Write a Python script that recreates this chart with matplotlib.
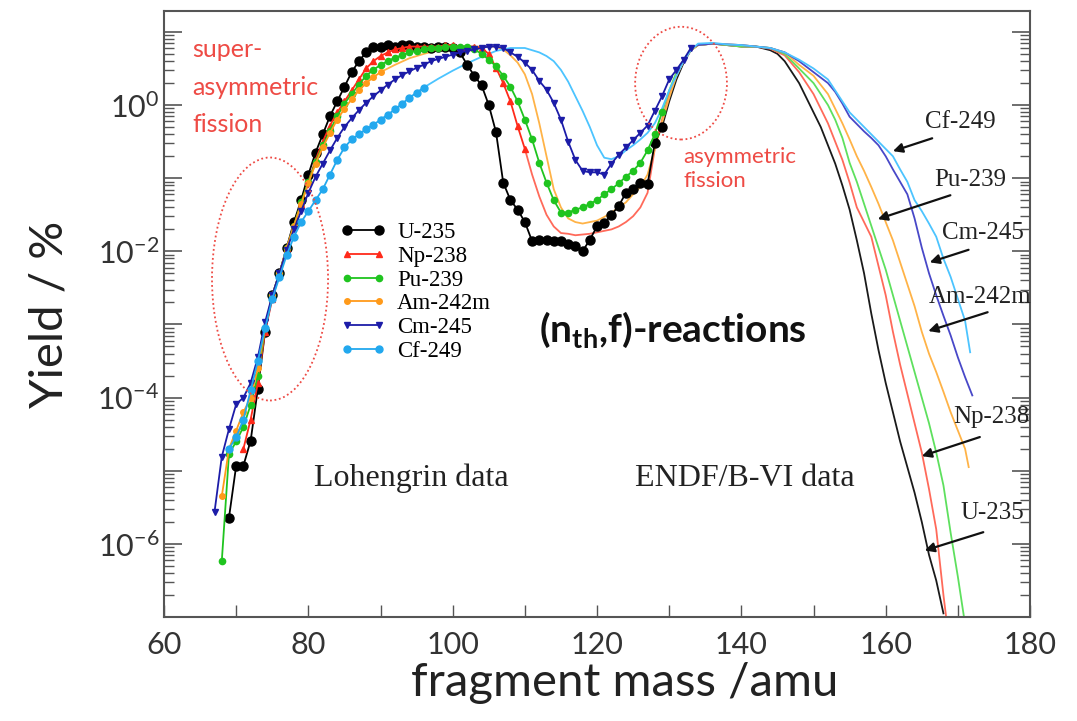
import numpy as np
import matplotlib.pyplot as plt
from matplotlib.patches import Ellipse
from matplotlib.ticker import LogLocator, MultipleLocator, FuncFormatter, NullFormatter

# log10(yield / %).
# "lo" = Lohengrin points (drawn with markers), "hi" = ENDF/B-VI curve (plain line)
u235_lo_mass = np.arange(69, 130)
u235_lo_logy = [-5.64, -4.93, -4.93, -4.59, -3.88, -3.1, -2.6, -2.3, -1.95, -1.6,
                -1.3, -0.95, -0.65, -0.4, -0.15, 0.05, 0.25, 0.45, 0.6, 0.72,
                0.8, 0.8, 0.82, 0.8, 0.82, 0.82, 0.8, 0.8, 0.78, 0.8,
                0.8, 0.78, 0.72, 0.55, 0.4, 0.27, 0.0, -0.37, -1.06, -1.3,
                -1.43, -1.6, -1.86, -1.84, -1.84, -1.86, -1.86, -1.9, -1.93, -2.0,
                -1.84, -1.66, -1.61, -1.5, -1.38, -1.2, -1.15, -1.06, -1.08, -0.52,
                -0.3]
u235_hi_mass = [130, 131, 132, 133, 134, 136, 138, 140, 142, 144, 145, 146, 147, 148, 149,
                150, 151, 152, 153, 154, 155, 156, 157, 158, 159, 160, 161, 162, 163, 164,
                165, 166, 167, 168]
u235_hi_logy = [0.05, 0.35, 0.58, 0.75, 0.82, 0.84, 0.82, 0.8, 0.8, 0.75, 0.7, 0.6, 0.45, 0.3, 0.1,
                -0.1, -0.3, -0.55, -0.8, -1.1, -1.43, -1.85, -2.3, -2.85, -3.35, -3.8, -4.2, -4.6, -4.95, -5.3,
                -5.7, -6.15, -6.5, -6.95]

np238_lo_mass = np.arange(71, 111)
np238_lo_logy = [-4.7, -4.3, -3.8, -3.1, -2.65, -2.3, -1.95, -1.65, -1.35, -1.05,
                 -0.75, -0.5, -0.28, -0.1, 0.05, 0.2, 0.35, 0.5, 0.6, 0.67,
                 0.72, 0.76, 0.78, 0.8, 0.8, 0.8, 0.8, 0.8, 0.82, 0.82,
                 0.8, 0.8, 0.8, 0.78, 0.7, 0.51, 0.3, 0.05, -0.29, -0.6]
np238_hi_mass = [111, 112, 113, 114, 115, 116, 117, 118, 119, 120, 121, 122, 123, 124, 125, 126, 127, 128, 129,
                 130, 131, 132, 133, 134, 136, 138, 140, 142, 144, 146, 148, 150, 152, 154,
                 155, 156, 157, 158, 159, 160, 161, 162, 163, 164, 165, 166, 167, 168, 168.5]
np238_hi_logy = [-0.95, -1.25, -1.5, -1.66, -1.75, -1.76, -1.78, -1.77, -1.76, -1.74, -1.72, -1.7, -1.66, -1.6,
                 -1.52, -1.4, -1.2, -0.6, -0.2,
                 0.15, 0.4, 0.6, 0.75, 0.82, 0.84, 0.82, 0.8, 0.8, 0.77, 0.68, 0.45, 0.15, -0.25, -0.75,
                 -1.06, -1.4, -1.6, -1.8, -2.2, -2.6, -3.1, -3.55, -3.95, -4.35, -4.75, -5.25, -5.8, -6.7, -7.1]

pu239_lo_mass = np.arange(68, 130)
pu239_lo_logy = [-6.24, -4.77, -4.6, -4.4, -4.1, -3.7, -3.05, -2.6, -2.3, -1.95,
                 -1.65, -1.33, -1.05, -0.78, -0.55, -0.35, -0.15, 0.02, 0.15, 0.28,
                 0.4, 0.48, 0.55, 0.6, 0.65, 0.68, 0.72, 0.74, 0.76, 0.78,
                 0.78, 0.8, 0.8, 0.8, 0.8, 0.76, 0.7, 0.62, 0.53, 0.4,
                 0.25, 0.05, -0.2, -0.47, -0.79, -1.06, -1.3, -1.47, -1.47, -1.43,
                 -1.4, -1.35, -1.3, -1.22, -1.15, -1.07, -0.98, -0.9, -0.79, -0.62,
                 -0.4, -0.1]
pu239_hi_mass = [130, 131, 132, 133, 134, 136, 138, 140, 142, 144, 146, 148, 150, 152,
                 153, 154, 155, 156, 157, 158, 159, 160, 161, 162, 163, 164, 165, 166, 167, 168, 169, 170, 171]
pu239_hi_logy = [0.2, 0.45, 0.62, 0.75, 0.82, 0.84, 0.82, 0.8, 0.8, 0.78, 0.7, 0.5, 0.3, 0.0,
                 -0.2, -0.45, -0.79, -1.05, -1.35, -1.65, -1.95, -2.25, -2.6, -2.95, -3.3, -3.65, -4.0,
                 -4.35, -4.75, -5.2, -5.85, -6.45, -7.1]

am242m_lo_mass = np.arange(68, 91)
am242m_lo_logy = [-5.35, -4.7, -4.45, -4.2, -4.0, -3.6, -3.05, -2.6, -2.3, -1.95,
                  -1.65, -1.35, -1.07, -0.8, -0.58, -0.38, -0.2, -0.05, 0.08, 0.2,
                  0.3, 0.38, 0.45]
am242m_hi_mass = [92, 94, 96, 98, 100, 102, 104, 106,
                  107, 108, 109, 110, 111, 112, 113, 114, 115, 116, 117, 118, 119, 120, 121, 122, 123, 124,
                  125, 126, 127, 128, 129, 130, 131, 132, 133, 134,
                  136, 138, 140, 142, 144, 146, 148, 150, 152,
                  153, 154, 155, 156, 157, 158, 159, 160, 161, 162, 163, 164, 165, 166, 167, 168, 169, 170, 171,
                  171.5]
am242m_hi_logy = [0.55, 0.64, 0.7, 0.75, 0.78, 0.8, 0.8, 0.8,
                  0.76, 0.68, 0.58, 0.42, 0.15, -0.25, -0.7, -1.15, -1.4, -1.55, -1.6, -1.62, -1.6, -1.58,
                  -1.53, -1.47, -1.4, -1.33, -1.22, -1.12, -0.95, -0.6, -0.24, 0.1, 0.4, 0.6, 0.75, 0.82,
                  0.84, 0.83, 0.82, 0.8, 0.78, 0.72, 0.55, 0.4, 0.15,
                  -0.05, -0.25, -0.47, -0.7, -0.9, -1.12, -1.35, -1.6, -1.85, -2.15, -2.45, -2.75, -3.1,
                  -3.4, -3.65, -3.92, -4.2, -4.45, -4.7,
                  -4.95]

cm245_lo_mass = np.arange(67, 134)
cm245_lo_logy = [-5.56, -4.81, -4.43, -4.09, -4.0, -3.8, -3.45, -2.97, -2.6, -2.29,
                 -1.98, -1.7, -1.45, -1.2, -0.98, -0.8, -0.62, -0.45, -0.3, -0.18,
                 -0.07, 0.03, 0.12, 0.2, 0.28, 0.35, 0.41, 0.46, 0.51, 0.55,
                 0.6, 0.63, 0.66, 0.69, 0.72, 0.74, 0.76, 0.78, 0.8, 0.8,
                 0.78, 0.72, 0.66, 0.58, 0.48, 0.33, 0.21, 0.03, -0.2, -0.5,
                 -0.75, -0.9, -0.92, -0.92, -0.95, -0.8, -0.68, -0.58, -0.48, -0.38,
                 -0.28, -0.08, 0.12, 0.35, 0.48, 0.62, 0.78]
cm245_hi_mass = [134, 136, 138, 140, 142, 144, 146, 148, 150, 152,
                 153, 154, 155, 156, 157, 158, 159, 160, 161, 162, 163, 164, 165, 166, 167, 168, 169, 170, 171, 172]
cm245_hi_logy = [0.82, 0.84, 0.83, 0.82, 0.8, 0.78, 0.72, 0.6, 0.45, 0.3,
                 0.18, 0.02, -0.16, -0.26, -0.36, -0.45, -0.55, -0.7, -0.88, -1.05, -1.22, -1.55, -1.95,
                 -2.3, -2.6, -2.88, -3.15, -3.45, -3.72, -3.97]

cf249_lo_mass = np.arange(69, 97)
cf249_lo_logy = [-4.7, -4.54, -4.3, -3.9, -3.5, -3.05, -2.65, -2.35, -2.05, -1.8,
                 -1.6, -1.45, -1.3, -1.15, -0.95, -0.75, -0.58, -0.47, -0.4, -0.33,
                 -0.27, -0.2, -0.13, -0.06, 0.02, 0.1, 0.17, 0.24]
cf249_hi_mass = [98, 100, 102, 104, 106, 108, 110, 112,
                 113, 114, 115, 116, 117, 118, 119, 120, 121, 122, 123, 124, 125, 126, 127, 128, 129, 130,
                 131, 132, 133, 134,
                 136, 138, 140, 142, 144, 146, 148, 150, 152,
                 153, 154, 155, 156, 157, 158, 159, 160, 161, 162, 163, 164, 165, 166, 167, 168, 169, 170, 171,
                 171.7]
cf249_hi_logy = [0.36, 0.47, 0.57, 0.66, 0.74, 0.78, 0.78, 0.72,
                 0.67, 0.6, 0.48, 0.32, 0.12, -0.08, -0.3, -0.55, -0.72, -0.74, -0.7, -0.62, -0.55, -0.47,
                 -0.38, -0.25, -0.05, 0.2, 0.4, 0.6, 0.75, 0.84,
                 0.85, 0.83, 0.82, 0.8, 0.78, 0.72, 0.62, 0.5, 0.35,
                 0.2, 0.05, -0.1, -0.2, -0.3, -0.4, -0.5, -0.6, -0.7, -0.88, -1.05, -1.3, -1.45, -1.62,
                 -1.8, -2.1, -2.35, -2.65, -2.95,
                 -3.38]

# (label, lo mass, lo logy, hi mass, hi logy, marker colour, line colour, marker, marker size)
series = [
    ("U-235", u235_lo_mass, u235_lo_logy, u235_hi_mass, u235_hi_logy, "#000000", "#1a1a1a", "o", 6.5),
    ("Np-238", np238_lo_mass, np238_lo_logy, np238_hi_mass, np238_hi_logy, "#ff2a1a", "#ff6a5a", "^", 4.5),
    ("Pu-239", pu239_lo_mass, pu239_lo_logy, pu239_hi_mass, pu239_hi_logy, "#1fc41f", "#5ee05e", "o", 4.5),
    ("Am-242m", am242m_lo_mass, am242m_lo_logy, am242m_hi_mass, am242m_hi_logy, "#ff9a1a", "#ffb347", "o", 4),
    ("Cm-245", cm245_lo_mass, cm245_lo_logy, cm245_hi_mass, cm245_hi_logy, "#1c1ca8", "#4848c8", "v", 5),
    ("Cf-249", cf249_lo_mass, cf249_lo_logy, cf249_hi_mass, cf249_hi_logy, "#22a8ee", "#4cc4ff", "o", 5),
]

# labels on the right: (text, text position in axes fraction, arrow start (axes frac), arrow tip (mass, logy))
right_labels = [
    ("Cf-249", (0.920, 0.817), (0.887, 0.790), (161.0, -0.63)),
    ("Pu-239", (0.931, 0.721), (0.908, 0.696), (158.9, -1.56)),
    ("Cm-245", (0.946, 0.634), (0.929, 0.606), (166.1, -2.15)),
    ("Am-242m", (0.942, 0.528), (0.951, 0.503), (165.9, -3.09)),
    ("Np-238", (0.955, 0.330), (0.942, 0.297), (165.0, -4.80)),
    ("U-235", (0.957, 0.172), (0.946, 0.140), (165.4, -6.09)),
]

sans = ["Lato", "DejaVu Sans"]
serif = ["Liberation Serif", "DejaVu Serif"]
plt.rcParams['font.family'] = sans
plt.rcParams['mathtext.default'] = 'regular'

fig = plt.figure(figsize=(10.77, 7.21), dpi=100)
ax = fig.add_axes([0.1523, 0.1442, 0.8041, 0.8405])

handles = []
for name, lm, ly, hm, hy, mcol, lcol, mk, ms in series:
    h, = ax.plot(lm, 10.0 ** np.asarray(ly), color=mcol, lw=1.3, marker=mk, ms=ms,
                 mec=mcol, mfc=mcol, label=name, zorder=3)
    handles.append(h)
    xs = np.concatenate([[lm[-1]], hm])
    ys = 10.0 ** np.concatenate([[ly[-1]], hy])
    ax.plot(xs, ys, color=lcol, lw=1.3, zorder=2)

ax.set_yscale('log')
ax.set_xlim(60, 180)
ax.set_ylim(1e-7, 19.3)

ax.xaxis.set_major_locator(MultipleLocator(20))
ax.xaxis.set_minor_locator(MultipleLocator(10))
ax.yaxis.set_major_locator(LogLocator(base=10, numticks=20))
ax.yaxis.set_minor_locator(LogLocator(base=10, subs=np.arange(2, 10), numticks=20))
ax.yaxis.set_minor_formatter(NullFormatter())


def pow_label(v, pos):
    e = int(round(np.log10(v)))
    return r'$10^{%d}$' % e if e % 2 == 0 else ''


ax.yaxis.set_major_formatter(FuncFormatter(pow_label))
ax.tick_params(axis='both', which='both', direction='in', colors='#555555',
               labelcolor='#333333', labelsize=22)
ax.tick_params(axis='y', which='major', length=13, width=1.2, right=True)
ax.tick_params(axis='y', which='minor', length=7, width=1.0, right=True)
ax.tick_params(axis='x', which='both', length=9, width=1.0, pad=10)
for sp in ax.spines.values():
    sp.set_color('#555555')
    sp.set_linewidth(1.5)

ax.set_xlabel('fragment mass /amu', fontsize=34, color='#222222')
ax.set_ylabel('Yield / %', fontsize=34, color='#222222')
ax.xaxis.set_label_coords(0.532, -0.075)
ax.yaxis.set_label_coords(-0.108, 0.5)

# annotations
red = '#ee4b45'
ax.text(0.033, 0.955, 'super-\nasymmetric\nfission', transform=ax.transAxes, color=red,
        fontsize=18, va='top', ha='left', linespacing=1.75)
ax.text(0.600, 0.775, 'asymmetric\nfission', transform=ax.transAxes, color=red,
        fontsize=16, va='top', ha='left', linespacing=1.25)
ax.add_patch(Ellipse((0.1224, 0.5578), 0.134, 0.401, transform=ax.transAxes, fill=False,
                     ec=red, lw=1.3, ls=(0, (1, 1.5)), zorder=4))
ax.add_patch(Ellipse((0.597, 0.881), 0.106, 0.186, transform=ax.transAxes, fill=False,
                     ec=red, lw=1.3, ls=(0, (1, 1.5)), zorder=4))

ax.text(0.588, 0.474, r'(n$_{th}$,f)-reactions', transform=ax.transAxes,
        fontsize=28, fontweight='bold', ha='center', va='center', color='#111111')
ax.text(0.285, 0.229, 'Lohengrin data', transform=ax.transAxes, family=serif,
        fontsize=23, ha='center', va='center', color='#222222')
ax.text(0.671, 0.229, 'ENDF/B-VI data', transform=ax.transAxes, family=serif,
        fontsize=23, ha='center', va='center', color='#222222')

for txt, tpos, start, (tm, tl) in right_labels:
    ax.text(tpos[0], tpos[1], txt, transform=ax.transAxes, family=serif, fontsize=18,
            ha='center', va='center', color='#222222')
    ax.annotate('', xy=(tm, 10.0 ** tl), xycoords='data', xytext=start, textcoords='axes fraction',
                arrowprops=dict(arrowstyle='-|>', color='#111111', lw=1.6, mutation_scale=14,
                                shrinkA=0, shrinkB=0))

ax.legend(handles=handles, loc='upper left', bbox_to_anchor=(0.203, 0.652), frameon=False,
          prop={'family': serif, 'size': 16.5}, handlelength=2.0, numpoints=2,
          labelspacing=0.12, borderpad=0, borderaxespad=0, handletextpad=0.5)

fig.savefig('out.png', dpi=100)
